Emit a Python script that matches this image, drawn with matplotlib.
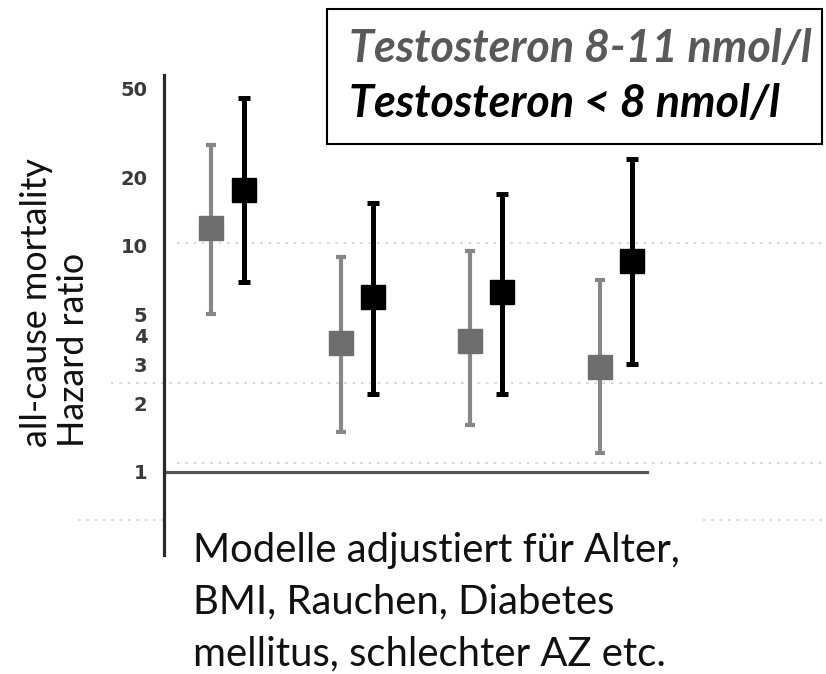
import matplotlib
matplotlib.use("Agg")
import matplotlib.pyplot as plt
from matplotlib.patches import Rectangle

# Hazard ratios (point estimate with 95% CI) for four adjusted models
models = [1, 2, 3, 4]
hr_mid = [12.0, 3.73, 3.80, 2.91]      # Testosteron 8-11 nmol/l
hr_mid_lo = [5.0, 1.51, 1.61, 1.21]
hr_mid_hi = [28.0, 8.9, 9.5, 7.07]
hr_low = [17.7, 5.97, 6.28, 8.61]      # Testosteron < 8 nmol/l
hr_low_lo = [6.9, 2.21, 2.21, 3.0]
hr_low_hi = [45.0, 15.5, 17.0, 24.2]

yticks = [1, 2, 3, 4, 5, 10, 20, 50]
ytick_labels = ["1", "2", "3", "4", "5", "10", "20", "50"]
grid_levels = [0.61, 1.1, 2.48, 10.3]

legend_labels = ["Testosteron 8-11 nmol/l", "Testosteron < 8 nmol/l"]
ylabel = "all-cause mortality\nHazard ratio"
note = "Modelle adjustiert für Alter,\nBMI, Rauchen, Diabetes\nmellitus, schlechter AZ etc."

W, H = 826, 674
fig = plt.figure(figsize=(W / 100, H / 100), dpi=100)
fig.patch.set_facecolor("white")

def fx(px):
    return px / W

def fy(py):
    return (H - py) / H

ax = fig.add_axes([fx(164), fy(555), fx(826) - fx(164), fy(75) - fy(555)])
ax.set_yscale("log")
ax.set_ylim(0.429, 57.1)
ax.set_xlim(0.509, 5.625)

for s in ["top", "right", "bottom"]:
    ax.spines[s].set_visible(False)
ax.spines["left"].set_linewidth(2.3)
ax.spines["left"].set_color("#2a2a2a")
ax.spines["left"].set_zorder(20)
ax.set_xticks([])
ax.set_yticks(yticks)
ax.set_yticklabels(ytick_labels)
ax.yaxis.set_minor_locator(matplotlib.ticker.NullLocator())
ax.tick_params(axis="y", length=0, pad=12, labelsize=14, labelcolor="#3a3a3a")
for lbl in ax.get_yticklabels():
    lbl.set_fontweight("bold")

# faint dotted reference lines (start offsets in axes fraction)
grid_start = [-0.13, 0.02, -0.08, 0.02]
for g, x0 in zip(grid_levels, grid_start):
    ax.axhline(g, xmin=x0, xmax=1.0, color="#cfcfcf", lw=1.2,
               ls=(0, (1.5, 3.5)), clip_on=False, zorder=1)

# null-effect line
ax.axhline(1, xmin=0, xmax=(4.24 - 0.509) / (5.625 - 0.509),
           color="#555555", lw=2.3, zorder=2)

off = 0.124
xg = [m - off for m in models]
xb = [m + off for m in models]

ax.errorbar(xg, hr_mid,
            yerr=[[m - lo for m, lo in zip(hr_mid, hr_mid_lo)],
                  [hi - m for m, hi in zip(hr_mid, hr_mid_hi)]],
            fmt="s", color="#6e6e6e", ecolor="#878787", elinewidth=3.0,
            capsize=3.4, capthick=3.0, markersize=17, zorder=3)
ax.errorbar(xb, hr_low,
            yerr=[[m - lo for m, lo in zip(hr_low, hr_low_lo)],
                  [hi - m for m, hi in zip(hr_low, hr_low_hi)]],
            fmt="s", color="#000000", ecolor="#000000", elinewidth=3.6,
            capsize=4.2, capthick=3.6, markersize=17, zorder=3)

# legend box
fig.add_artist(Rectangle((fx(327), fy(144)), fx(822) - fx(327), fy(9) - fy(144),
                         transform=fig.transFigure, facecolor="white",
                         edgecolor="black", lw=1.5, zorder=10))
fig.text(fx(349), fy(62), legend_labels[0], color="#595959", fontsize=32.3,
         fontfamily="Lato", fontweight="bold", fontstyle="italic",
         va="baseline", ha="left", zorder=11)
fig.text(fx(349), fy(117), legend_labels[1], color="#000000", fontsize=32.3,
         fontfamily="Lato", fontweight="bold", fontstyle="italic",
         va="baseline", ha="left", zorder=11)

# y axis title
fig.text(fx(55), fy(447), ylabel, rotation=90, fontsize=25.8, fontfamily="Lato",
         ha="center", va="bottom", multialignment="left", linespacing=1.18,
         color="#111111")

# white panel behind the footnote
fig.add_artist(Rectangle((fx(167), 0), fx(700) - fx(167), fy(510),
                         transform=fig.transFigure, facecolor="white",
                         edgecolor="none", zorder=4))
fig.text(fx(193), fy(665), note, fontsize=28.8, fontfamily="Lato",
         ha="left", va="baseline", linespacing=1.48, color="#111111", zorder=5)

fig.savefig("out.png", dpi=100, facecolor="white")
